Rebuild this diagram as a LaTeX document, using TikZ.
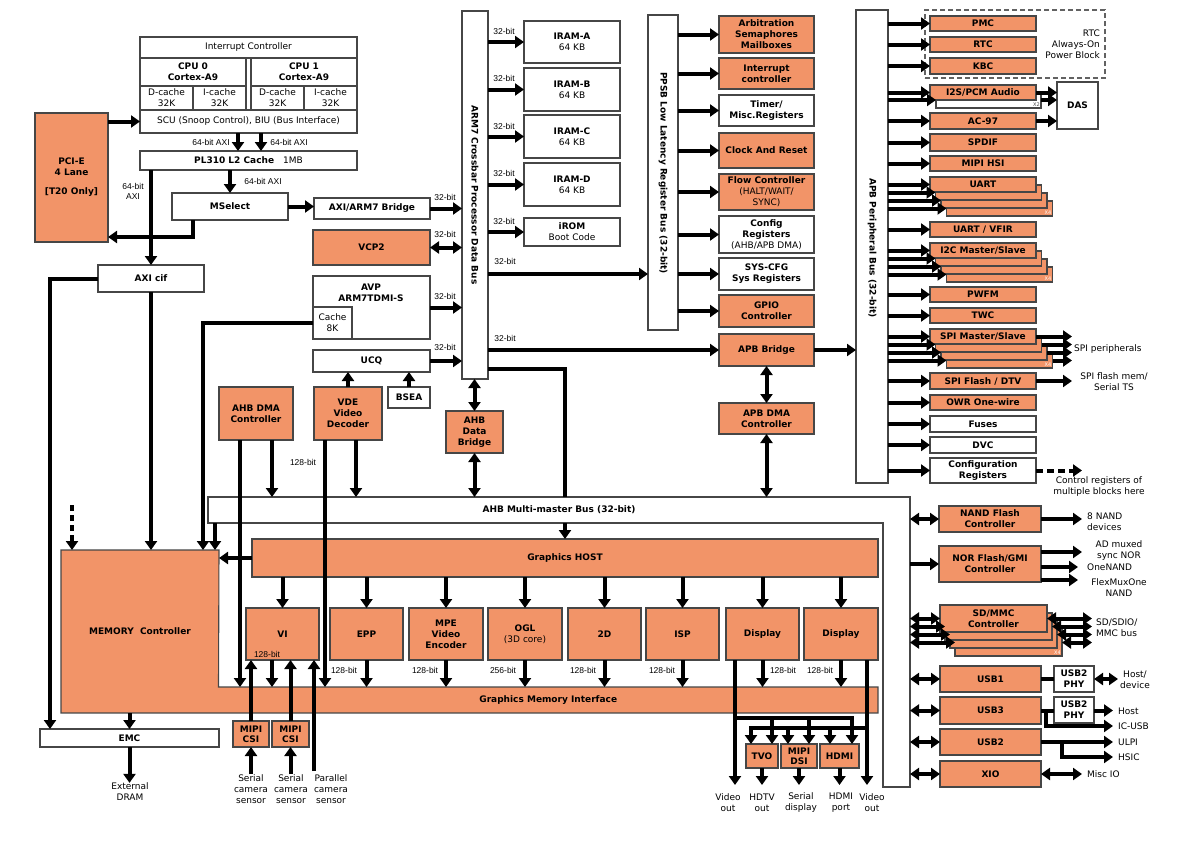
\documentclass[tikz,border=0pt]{standalone}
\usepackage{fontspec}
\setmainfont{DejaVu Sans}
\newfontfamily\libsans{Liberation Sans}
\usetikzlibrary{arrows.meta,calc}
\definecolor{orng}{RGB}{242,148,104}
\definecolor{bline}{RGB}{70,70,70}
\newcommand\bfs{\fontsize{9}{11}\selectfont\bfseries}
\newcommand\rgs{\fontsize{9}{11}\selectfont\mdseries}
\newcommand\lbs{\libsans\fontsize{8.5}{10}\selectfont}
\newcommand\mybox[8][]{%
  \pgfmathsetmacro\bxw{(#6)-(#4)}%
  \pgfmathsetmacro\bxh{(#7)-(#5)}%
  \pgfmathsetmacro\bxx{((#4)+(#6))/2}%
  \pgfmathsetmacro\bxy{((#5)+(#7))/2}%
  \node[#2,minimum width=\bxw pt,minimum height=\bxh pt,#1] (#3) at (\bxx,\bxy) {#8};}
\newcommand\stk[7]{%
  \mybox{obox}{#1d}{#2+3*#6}{#3+24}{#4+3*#6}{#5+24}{}%
  \mybox{obox}{#1c}{#2+2*#6}{#3+16}{#4+2*#6}{#5+16}{}%
  \mybox{obox}{#1b}{#2+#6}{#3+8}{#4+#6}{#5+8}{}%
  \mybox{obox}{#1}{#2}{#3}{#4}{#5}{#7}%
  \node[xfour] (#1x) at (#1d.south east) {X4};}
\tikzset{
  boxbase/.style={draw=bline,line width=1.1pt,inner sep=0pt,outer sep=0pt,align=center,font=\bfs},
  wbox/.style={boxbase,fill=white},
  obox/.style={boxbase,fill=orng},
  fbox/.style={inner sep=0pt,outer sep=0pt,align=center,font=\bfs},
  dashbox/.style={draw=bline!85,line width=1.4pt,dash pattern=on 5pt off 3pt,inner sep=0pt,outer sep=0pt},
  arr/.style={line width=4pt,-{Triangle[length=9pt,width=12pt]}},
  darr/.style={line width=4pt,{Triangle[length=9pt,width=12pt]}-{Triangle[length=9pt,width=12pt]}},
  thk/.style={line width=4pt},
  lbl/.style={font=\lbs,inner sep=0pt,align=center},
  txt/.style={font=\rgs,align=center,inner sep=0pt},
  xfour/.style={font=\fontsize{5}{5}\selectfont,text=white,anchor=south east,inner sep=1pt},
}
\begin{document}
\begin{tikzpicture}[x=1pt,y=-1pt]
\fill[white] (0,0) rectangle (1200,846);
\useasboundingbox (0,0) rectangle (1200,846);

% ---------- CPU complex ----------
\mybox{wbox,font=\rgs}{intc}{140}{37}{357}{58}{Interrupt Controller}
\mybox{wbox}{cpu0}{140}{58}{246}{86}{CPU 0\\Cortex-A9}
\mybox{wbox,font=\rgs}{dc0}{140}{86}{193}{110}{D-cache\\32K}
\mybox{wbox,font=\rgs}{ic0}{193}{86}{246}{110}{I-cache\\32K}
\mybox{wbox}{cpugap}{246}{58}{251}{110}{}
\mybox{wbox}{cpu1}{251}{58}{357}{86}{CPU 1\\Cortex-A9}
\mybox{wbox,font=\rgs}{dc1}{251}{86}{304}{110}{D-cache\\32K}
\mybox{wbox,font=\rgs}{ic1}{304}{86}{357}{110}{I-cache\\32K}
\mybox{wbox,font=\rgs}{scu}{140}{110}{357}{133}{SCU (Snoop Control), BIU (Bus Interface)}
\mybox{wbox}{l2}{140}{151}{357}{170}{PL310 L2 Cache\quad{\rgs 1MB}}
\mybox{wbox}{msel}{172}{193}{288}{220}{MSelect}
\mybox{wbox}{bridge}{314}{198}{430}{219}{AXI/ARM7 Bridge}
\mybox{obox}{pcie}{35}{113}{108}{242}{PCI-E\\4 Lane\\[8pt]{[T20 Only]}}
\mybox{wbox}{axicif}{98}{265}{204}{292}{AXI cif}

% ---------- left of crossbar ----------
\mybox{obox}{vcp2}{313}{230}{430}{265}{VCP2}
\mybox{wbox}{avp}{313}{276}{430}{339}{}
\node[fbox] (avpt) at (371,292.5) {AVP\\ARM7TDMI-S};
\mybox{wbox,font=\rgs}{cache}{313}{307}{352}{339}{Cache\\8K}
\mybox{wbox}{ucq}{313}{350}{430}{372}{UCQ}
\mybox{wbox}{bsea}{388}{387}{430}{408}{BSEA}
\mybox{obox}{vde}{314}{387}{382}{440}{VDE\\Video\\Decoder}
\mybox{obox}{ahbdma}{219}{387}{293}{440}{AHB DMA\\Controller}
\mybox{obox}{adb}{446}{411}{503}{453}{AHB\\Data\\Bridge}

% ---------- crossbar & memories ----------
\mybox{wbox}{xbar}{462}{11}{488}{379}{}
\node[fbox,rotate=-90] (xbart) at (475,195) {ARM7 Crossbar Processor Data Bus};
\mybox{wbox}{irama}{524}{21}{620}{63}{IRAM-A\\{\rgs 64 KB}}
\mybox{wbox}{iramb}{524}{68}{620}{111}{IRAM-B\\{\rgs 64 KB}}
\mybox{wbox}{iramc}{524}{115}{620}{158}{IRAM-C\\{\rgs 64 KB}}
\mybox{wbox}{iramd}{524}{163}{620}{206}{IRAM-D\\{\rgs 64 KB}}
\mybox{wbox}{irom}{524}{218}{620}{246}{iROM\\{\rgs Boot Code}}

% ---------- PPSB ----------
\mybox{wbox}{ppsb}{648}{15}{678}{330}{}
\node[fbox,rotate=-90] (ppsbt) at (663,173) {PPSB Low Latency Register Bus (32-bit)};
\mybox{obox}{arb}{719}{16}{814}{53}{Arbitration\\Semaphores\\Mailboxes}
\mybox{obox}{intr}{719}{58}{814}{89}{Interrupt\\controller}
\mybox{wbox}{timer}{719}{95}{814}{126}{Timer/\\Misc.Registers}
\mybox{obox}{clk}{719}{133}{814}{168}{Clock And Reset}
\mybox{obox}{flow}{719}{174}{814}{210}{Flow Controller\\{\rgs (HALT/WAIT/}\\{\rgs SYNC)}}
\mybox{wbox}{cfg}{719}{216}{814}{253}{Config\\Registers\\{\rgs (AHB/APB DMA)}}
\mybox{wbox}{syscfg}{719}{258}{814}{290}{SYS-CFG\\Sys Registers}
\mybox{obox}{gpio}{719}{295}{814}{327}{GPIO\\Controller}
\mybox{obox}{apbbr}{719}{334}{814}{366}{APB Bridge}
\mybox{obox}{apbdma}{719}{403}{814}{434}{APB DMA\\Controller}

% ---------- APB peripheral bus ----------
\mybox{dashbox}{aon}{925}{10}{1105}{78}{}
\node[txt,anchor=east,align=right] (aont) at (1100,44.5) {RTC\\Always-On\\Power Block};
\mybox{wbox}{apb}{856}{10}{888}{483}{}
\node[fbox,rotate=-90] (apbt) at (872,248) {APB Peripheral Bus (32-bit)};
\mybox{obox}{pmc}{930}{16}{1036}{31}{PMC}
\mybox{obox}{rtc}{930}{37}{1036}{52}{RTC}
\mybox{obox}{kbc}{930}{58}{1036}{74}{KBC}
\mybox{wbox}{i2sb}{936}{92}{1041}{108}{}
\node[xfour,text=bline] (i2sx) at (i2sb.south east) {X2};
\mybox{obox}{i2s}{930}{85}{1036}{100}{I2S/PCM Audio}
\mybox{wbox}{das}{1057}{82}{1098}{129}{DAS}
\mybox{obox}{ac97}{930}{113}{1036}{129}{AC-97}
\mybox{obox}{spdif}{930}{134}{1036}{151}{SPDIF}
\mybox{obox}{hsi}{930}{156}{1036}{171}{MIPI HSI}
\stk{uart}{930}{177}{1036}{192}{5.5}{UART}
\mybox{obox}{uartv}{930}{222}{1036}{237}{UART / VFIR}
\stk{i2c}{930}{243}{1036}{258}{5.5}{I2C Master/Slave}
\mybox{obox}{pwfm}{930}{287}{1036}{302}{PWFM}
\mybox{obox}{twc}{930}{308}{1036}{323}{TWC}
\stk{spi}{930}{329}{1036}{344}{5.5}{SPI Master/Slave}
\mybox{obox}{spiflash}{930}{373}{1036}{389}{SPI Flash / DTV}
\mybox{obox}{owr}{930}{395}{1036}{410}{OWR One-wire}
\mybox{wbox}{fuses}{930}{416}{1036}{432}{Fuses}
\mybox{wbox}{dvc}{930}{437}{1036}{453}{DVC}
\mybox{wbox}{cfgreg}{930}{458}{1036}{483}{Configuration\\Registers}

% ---------- AHB right side ----------
\mybox{obox}{nand}{939}{506}{1041}{532}{NAND Flash\\Controller}
\mybox{obox}{nor}{939}{546}{1041}{582}{NOR Flash/GMI\\Controller}
\stk{sd}{940}{605}{1047}{632}{5}{SD/MMC\\Controller}
\mybox{obox}{usb1}{940}{666}{1041}{692}{USB1}
\mybox{wbox}{phy1}{1054}{666}{1094}{692}{USB2\\PHY}
\mybox{obox}{usb3}{940}{697}{1041}{724}{USB3}
\mybox{wbox}{phy2}{1054}{697}{1094}{723}{USB2\\PHY}
\mybox{obox}{usb2}{940}{729}{1041}{755}{USB2}
\mybox{obox}{xio}{940}{761}{1041}{787}{XIO}

% ---------- AHB bus, memory controller, graphics ----------
\mybox{fbox,fill=white}{ahb}{208}{497}{910}{523}{AHB Multi-master Bus (32-bit)}
\mybox{fbox,fill=white}{ahbr}{883}{523}{910}{787}{}
\draw[draw=bline,line width=1.1pt] (ahb.north west) -- (ahb.north east) -- (ahbr.south east) -- (ahbr.south west) -- (ahbr.north west) -- (ahb.south west) -- cycle;
\mybox{fbox,fill=orng}{mc}{61}{550}{219}{713}{MEMORY\ \ Controller}
\mybox{fbox,fill=orng}{gmi}{218.5}{687}{878}{713}{Graphics Memory Interface}
\draw[draw=bline,line width=1.1pt] (mc.north west) -- (mc.north east) -- (gmi.north west) -- (gmi.north east) -- (gmi.south east) -- (mc.south west) -- cycle;
\mybox{obox}{ghost}{252}{539}{878}{577}{Graphics HOST}
\mybox{obox}{vi}{246}{608}{319}{660}{VI}
\mybox{obox}{epp}{330}{608}{403}{660}{EPP}
\mybox{obox}{mpe}{409}{608}{483}{660}{MPE\\Video\\Encoder}
\mybox{obox}{ogl}{488}{608}{562}{660}{OGL\\{\rgs (3D core)}}
\mybox{obox}{gtwo}{568}{608}{641}{660}{2D}
\mybox{obox}{isp}{646}{608}{719}{660}{ISP}
\mybox{obox}{disp1}{726}{608}{799}{660}{Display}
\mybox{obox}{disp2}{804}{608}{878}{660}{Display}
\mybox{wbox}{emc}{40}{729}{219}{747}{EMC}
\mybox{obox,font=\fontsize{9}{10}\selectfont\bfseries}{csi1}{233}{721}{269}{747}{MIPI\\CSI}
\mybox{obox,font=\fontsize{9}{10}\selectfont\bfseries}{csi2}{272}{721}{309}{747}{MIPI\\CSI}
\mybox{obox}{tvo}{746}{744}{778}{768}{TVO}
\mybox{obox,font=\fontsize{9}{10}\selectfont\bfseries}{dsi}{781}{744}{817}{768}{MIPI\\DSI}
\mybox{obox}{hdmi}{820}{744}{859}{768}{HDMI}

% ---------- text labels ----------
\node[lbl] (l64a) at (211,142) {64-bit AXI};
\node[lbl] (l64b) at (289,142) {64-bit AXI};
\node[lbl] (l64c) at (263,181) {64-bit AXI};
\node[lbl] (l64d) at (133,191) {64-bit\\AXI};
\node[lbl] (l32a) at (445,197) {32-bit};
\node[lbl] (l32b) at (445,234) {32-bit};
\node[lbl] (l32c) at (445,296) {32-bit};
\node[lbl] (l32d) at (445,347) {32-bit};
\node[lbl] (l32e) at (504,31) {32-bit};
\node[lbl] (l32f) at (504,78) {32-bit};
\node[lbl] (l32g) at (504,126) {32-bit};
\node[lbl] (l32h) at (504,173) {32-bit};
\node[lbl] (l32i) at (504,221) {32-bit};
\node[lbl] (l32j) at (505,261) {32-bit};
\node[lbl] (l32k) at (505,338) {32-bit};
\node[lbl] (l128v) at (303,462) {128-bit};
\node[lbl] (l128vi) at (267,654) {128-bit};
\node[lbl] (l128e) at (344,670) {128-bit};
\node[lbl] (l128m) at (425,670) {128-bit};
\node[lbl] (l256o) at (503,670) {256-bit};
\node[lbl] (l128g) at (583,670) {128-bit};
\node[lbl] (l128i) at (662,670) {128-bit};
\node[lbl] (l128d) at (783,670) {128-bit};
\node[lbl] (l128f) at (820,670) {128-bit};
\node[txt] (dram) at (130,792) {External\\DRAM};
\node[txt] (sens1) at (251,789) {Serial\\camera\\sensor};
\node[txt] (sens2) at (291,789) {Serial\\camera\\sensor};
\node[txt] (sens3) at (331,789) {Parallel\\camera\\sensor};
\node[txt] (vout1) at (728,803) {Video\\out};
\node[txt] (hdtv) at (762,803) {HDTV\\out};
\node[txt] (sdisp) at (801,803) {Serial\\display};
\node[txt] (hport) at (841,803) {HDMI\\port};
\node[txt] (vout2) at (872,803) {Video\\out};
\node[txt,anchor=west] (spip) at (1074,349) {SPI peripherals};
\node[txt] (spifl) at (1114,382) {SPI flash mem/\\Serial TS};
\node[txt] (ctrlr) at (1099,487) {Control registers of\\multiple blocks here};
\node[txt,anchor=west,align=left] (nandd) at (1087,522) {8 NAND\\devices};
\node[txt] (admux) at (1119,550.5) {AD muxed\\sync NOR};
\node[txt,anchor=west] (onen) at (1087,567) {OneNAND};
\node[txt] (flexm) at (1119,587.5) {FlexMuxOne\\NAND};
\node[txt,anchor=west,align=left] (sdbus) at (1096,628) {SD/SDIO/\\MMC bus};
\node[txt] (hostd) at (1135,680) {Host/\\device};
\node[txt,anchor=west] (hostt) at (1118,711) {Host};
\node[txt,anchor=west] (icusbt) at (1118,726) {IC-USB};
\node[txt,anchor=west] (ulpit) at (1118,742) {ULPI};
\node[txt,anchor=west] (hsict) at (1118,757) {HSIC};
\node[txt,anchor=west] (misct) at (1087,774) {Misc IO};

% ---------- helper coordinates ----------
\coordinate (scuL) at ([xshift=-10.5pt]scu.south);
\coordinate (scuR) at ([xshift=12.5pt]scu.south);
\coordinate (mselL) at ([xshift=-37pt]msel.south);
\coordinate (pcieIn) at ([yshift=5pt]pcie.south east);
\coordinate (emcIn) at ([xshift=10pt]emc.north west);
\coordinate (mcCache) at ([xshift=-16pt]mc.north east);
\coordinate (mcAhb) at ([xshift=-4pt]mc.north east);
\coordinate (dmaL) at ([xshift=-16pt]ahbdma.south);
\coordinate (dmaR) at ([xshift=16pt]ahbdma.south);
\coordinate (vdeL) at ([xshift=-23pt]vde.south);
\coordinate (vdeR) at ([xshift=8pt]vde.south);
\coordinate (xbarOut) at ([yshift=10pt]xbar.south east);
\coordinate (viOut) at ([xshift=-10.5pt]vi.south);
\coordinate (pcam) at (314,771);
\coordinate (dtop) at (72,505);
\coordinate (voA) at (735,785);
\coordinate (voB) at (867,785);
\coordinate (j1) at (735,718);
\coordinate (j2) at (867,728);
\coordinate (tvoA) at ([xshift=10pt]tvo.north);
\coordinate (dsiA) at ([xshift=10pt]dsi.north);
\coordinate (hdmiA) at ([xshift=12.5pt]hdmi.north);
\coordinate (tvoB) at ([xshift=-11pt]tvo.north);
\coordinate (dsiB) at ([xshift=-11pt]dsi.north);
\coordinate (hdmiB) at ([xshift=-9.5pt]hdmi.north);
\coordinate (xspi) at (1072,0);
\coordinate (xa) at (1082,0);
\coordinate (xa2) at (1078,0);
\coordinate (xb) at (1113,0);
\coordinate (xc) at (1118,0);
\coordinate (xsd) at (1092,0);
\coordinate (icusb) at (1113,726);
\coordinate (hsic) at (1113,757);
\coordinate (norA) at ([yshift=-6pt]nor.north east);
\coordinate (norB) at ([yshift=-3pt]nor.east);
\coordinate (norC) at ([yshift=2pt]nor.south east);
\coordinate (usb3br) at ([xshift=5pt]usb3.east);
\coordinate (usb2br) at ([xshift=21pt]usb2.east);

% ---------- connectors: CPU area ----------
\draw[arr] (pcie.east |- scu.west) -- (scu.west);
\draw[arr] (scuL) -- (scuL |- l2.north);
\draw[arr] (scuR) -- (scuR |- l2.north);
\draw[arr] (l2.south -| msel.north) -- (msel.north);
\draw[arr] (msel.east) -- (msel.east -| bridge.west);
\draw[arr] (mselL) |- (pcieIn);
\draw[arr] (l2.south -| axicif.north) -- (axicif.north);
\draw[arr] (axicif.west) -| (emcIn);
\draw[arr] (axicif.south) -- (axicif.south |- mc.north);

% ---------- connectors: crossbar ----------
\draw[arr] (bridge.east) -- (bridge.east -| xbar.west);
\draw[darr] (vcp2.east) -- (vcp2.east -| xbar.west);
\draw[arr] (avp.east) -- (avp.east -| xbar.west);
\draw[arr] (ucq.east) -- (ucq.east -| xbar.west);
\draw[arr] (vde.north |- vde.north) -- (vde.north |- ucq.south);
\draw[arr] (bsea.north) -- (bsea.north |- ucq.south);
\draw[arr] (cache.west) -| (mcCache);
\draw[arr] (dmaL) -- (dmaL |- gmi.north);
\draw[arr] (dmaR) -- (dmaR |- ahb.north);
\draw[arr] (vdeL) -- (vdeL |- gmi.north);
\draw[arr] (vdeR) -- (vdeR |- ahb.north);
\draw[darr] (adb.north |- xbar.south) -- (adb.north);
\draw[darr] (adb.south) -- (adb.south |- ahb.north);
\draw[thk] (xbarOut) -| (ghost.north |- ahb.north);
\foreach \m in {irama,iramb,iramc,iramd,irom} \draw[arr] (xbar.east |- \m.west) -- (\m.west);
\draw[arr] (xbar.east |- syscfg.west) -- (ppsb.west |- syscfg.west);
\draw[arr] (xbar.east |- apbbr.west) -- (apbbr.west);

% ---------- connectors: PPSB / APB ----------
\foreach \b in {arb,intr,timer,clk,flow,cfg,syscfg,gpio} \draw[arr] (ppsb.east |- \b.west) -- (\b.west);
\draw[arr] (apbbr.east) -- (apbbr.east -| apb.west);
\draw[darr] (apbbr.south) -- (apbdma.north);
\draw[darr] (apbdma.south) -- (apbdma.south |- ahb.north);
\foreach \b in {pmc,rtc,kbc,i2s,i2sb,ac97,spdif,hsi,uart,uartb,uartc,uartd,uartv,i2c,i2cb,i2cc,i2cd,pwfm,twc,spi,spib,spic,spid,spiflash,owr,fuses,dvc,cfgreg} \draw[arr] (apb.east |- \b.west) -- (\b.west);
\draw[arr] (i2s.east) -- (i2s.east -| das.west);
\draw[arr] (i2sb.east) -- (i2sb.east -| das.west);
\draw[arr] (ac97.east) -- (ac97.east -| das.west);
\foreach \s in {spi,spib,spic,spid,spiflash} \draw[arr] (\s.east) -- (\s.east -| xspi);
\draw[arr,dash pattern=on 7pt off 4pt] (cfgreg.east) -- (cfgreg.east -| xa);

% ---------- connectors: AHB right side ----------
\draw[darr] (ahbr.east |- nand.west) -- (nand.west);
\draw[arr] (nand.east) -- (nand.east -| xa);
\draw[arr] (ahbr.east |- nor.west) -- (nor.west);
\draw[arr] (norA) -- (norA -| xa);
\draw[arr] (norB) -- (norB -| xa2);
\draw[arr] (norC) -- (norC -| xa2);
\foreach \s in {sd,sdb,sdc,sdd} {\draw[darr] (ahbr.east |- \s.west) -- (\s.west); \draw[darr] (\s.east) -- (\s.east -| xsd);}
\foreach \b in {usb1,usb3,usb2,xio} \draw[darr] (ahbr.east |- \b.west) -- (\b.west);
\draw[thk] (usb1.east) -- (phy1.west);
\draw[darr] (phy1.east) -- (phy1.east -| xc);
\draw[thk] (usb3.east) -- (usb3.east -| phy2.west);
\draw[arr] (phy2.east |- usb3.east) -- (usb3.east -| xb);
\draw[arr] (usb3br) |- (icusb);
\draw[arr] (usb2.east) -- (usb2.east -| xb);
\draw[arr] (usb2br) |- (hsic);
\draw[darr] (xio.east) -- (xio.east -| xa);

% ---------- connectors: memory & graphics ----------
\draw[arr] (mcAhb |- ahb.south) -- (mcAhb);
\draw[arr,dash pattern=on 6pt off 4pt] (dtop) -- (dtop |- mc.north);
\draw[arr] (ghost.west) -- (ghost.west -| mc.east);
\draw[arr] (ghost.north |- ahb.south) -- (ghost.north);
\foreach \g in {vi,epp,mpe,ogl,gtwo,isp,disp1,disp2} \draw[arr] (\g.north |- ghost.south) -- (\g.north);
\foreach \g in {epp,mpe,ogl,gtwo,isp,disp1,disp2} \draw[arr] (\g.south) -- (\g.south |- gmi.north);
\draw[arr] (viOut) -- (viOut |- gmi.north);
\draw[arr] (csi1.north) -- (csi1.north |- vi.south);
\draw[arr] (csi2.north) -- (csi2.north |- vi.south);
\draw[arr] (pcam) -- (pcam |- vi.south);
\draw[arr] (csi1.south |- sens1.north) -- (csi1.south);
\draw[arr] (csi2.south |- sens2.north) -- (csi2.south);
\draw[arr] (emc.north |- mc.south) -- (emc.north);
\draw[arr] (emc.south) -- (emc.south |- dram.north);
\draw[arr] (disp1.south -| voA) -- (voA);
\draw[arr] (disp2.south -| voB) -- (voB);
\draw[arr] (j1) -| (hdmiA);
\draw[arr] (tvoA |- j1) -- (tvoA);
\draw[arr] (dsiA |- j1) -- (dsiA);
\draw[arr] (j2) -| (tvoB);
\draw[arr] (dsiB |- j2) -- (dsiB);
\draw[arr] (hdmiB |- j2) -- (hdmiB);
\draw[arr] (tvo.south) -- (tvo.south |- voA);
\draw[arr] (dsi.south) -- (dsi.south |- voA);
\draw[arr] (hdmi.south) -- (hdmi.south |- voA);
\end{tikzpicture}
\end{document}
